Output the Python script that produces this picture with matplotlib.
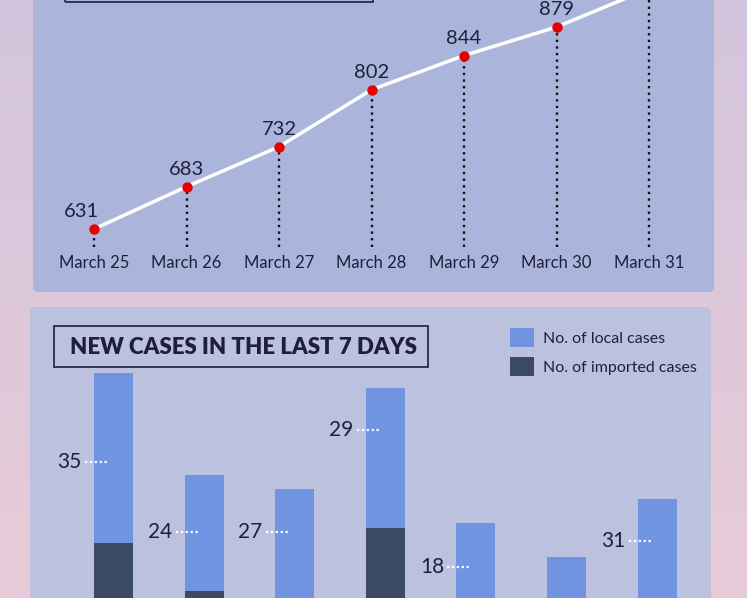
import matplotlib
matplotlib.use("Agg")
import matplotlib.pyplot as plt
import numpy as np
from matplotlib.patches import FancyBboxPatch, Rectangle, Patch
from matplotlib.colors import LinearSegmentedColormap

# ---------------- data ----------------
dates = ["March 25", "March 26", "March 27", "March 28", "March 29", "March 30", "March 31"]
total_cases = [631, 683, 732, 802, 844, 879, 926]
local_cases = [35, 24, 27, 29, 18, 16, 31]
imported_cases = [38, 28, 22, 41, 24, 19, 16]
bar_title = "NEW CASES IN THE LAST 7 DAYS"
legend_labels = ["No. of local cases", "No. of imported cases"]

# ---------------- style ----------------
W, H = 747, 598
FONT = "Lato"
TXT = "#1f1f3d"
BG_TOP, BG_BOT = "#d3c5de", "#e8cbd7"
PANEL1 = "#abb5dc"
PANEL2 = "#bcc2de"
LOCAL_C = "#7094e2"
IMPORT_C = "#3a4a66"

def fx(px):
    return px / W

def fy(py):
    return 1 - py / H

fig = plt.figure(figsize=(W / 100, H / 100), dpi=100)

# background gradient
bg = fig.add_axes([0, 0, 1, 1], zorder=0)
cmap = LinearSegmentedColormap.from_list("bg", [BG_TOP, BG_BOT])
bg.imshow(np.linspace(0, 1, 256).reshape(-1, 1), aspect="auto", cmap=cmap,
          extent=[0, 1, 0, 1], origin="upper")
bg.set_xlim(0, 1)
bg.set_ylim(0, 1)
bg.axis("off")

# panels (pixel boxes)
def panel(x0, y0, x1, y1, color):
    p = FancyBboxPatch((fx(x0), fy(y1)), fx(x1) - fx(x0), fy(y0) - fy(y1),
                       boxstyle="round,pad=0,rounding_size=0.007",
                       transform=bg.transAxes, facecolor=color, edgecolor="none",
                       zorder=1)
    bg.add_patch(p)

panel(33, -20, 714, 292, PANEL1)
panel(30, 307, 711, 640, PANEL2)

# top title box remnant
bg.add_patch(Rectangle((fx(65), fy(2)), fx(373) - fx(65), fy(-40) - fy(2),
                       transform=bg.transAxes, facecolor="none",
                       edgecolor="#2a2a4a", linewidth=1.3, zorder=2))

# ---------------- line chart ----------------
x_step, x0px = 92.5, 94
y_scale, y0px = 0.8145, 229  # px per case, px of first value
ax1 = fig.add_axes([fx(33), fy(247), fx(714) - fx(33), fy(0) - fy(247)], zorder=3)
ax1.set_facecolor("none")
ax1.set_xlim((33 - x0px) / x_step, (714 - x0px) / x_step)
ax1.set_ylim(total_cases[0] - (247 - y0px) / y_scale, total_cases[0] + y0px / y_scale)
xi = np.arange(len(dates))
ax1.vlines(xi, ax1.get_ylim()[0], total_cases, colors="#111111",
           linestyles=(0, (1.0, 1.8)), linewidth=1.7, zorder=2)
ax1.plot(xi, total_cases, color="white", linewidth=2.5, zorder=3, clip_on=False)
ax1.plot(xi, total_cases, linestyle="none", marker="o", markersize=6.5,
         color="#e60000", zorder=4)
for i, v in enumerate(total_cases):
    dx = -9 if i == 0 else 0
    ax1.annotate(str(v), (i, v), xytext=(dx, 12.5), textcoords="offset points",
                 ha="center", va="center", fontsize=14.5, color=TXT,
                 fontfamily=FONT, zorder=5)
ax1.set_xticks(xi)
ax1.set_xticklabels(dates, fontsize=12, color=TXT, fontfamily=FONT)
ax1.tick_params(axis="x", length=0, pad=6)
ax1.set_yticks([])
for s in ax1.spines.values():
    s.set_visible(False)

# ---------------- bar chart ----------------
b_step, b0px = 90.6, 113.5
b_scale, base_px = 4.85, 727
ax2 = fig.add_axes([fx(30), fy(H), fx(711) - fx(30), fy(307) - fy(H)], zorder=3)
ax2.set_facecolor("none")
ax2.set_xlim((30 - b0px) / b_step, (711 - b0px) / b_step)
ax2.set_ylim((base_px - H) / b_scale, (base_px - 307) / b_scale)
bw = 39 / b_step
ax2.bar(xi, imported_cases, width=bw, color=IMPORT_C, zorder=2)
ax2.bar(xi, local_cases, bottom=imported_cases, width=bw, color=LOCAL_C, zorder=2)
for s in ax2.spines.values():
    s.set_visible(False)
ax2.set_xticks([])
ax2.set_yticks([])

# value labels with white dotted leaders (the March 30 one lies below the crop)
label_heights = [54.6, 40.2, 40.2, 61.2, 33.0, None, 38.4]
for i, (v, h) in enumerate(zip(local_cases, label_heights)):
    if h is None:
        continue
    ax2.text(i - 32 / b_step, h, str(v), ha="right", va="center", fontsize=15,
             color=TXT, fontfamily=FONT, zorder=4)
    ax2.plot([i - 28.5 / b_step, i - 4.5 / b_step], [h, h], color="white",
             linestyle=(0, (1, 1.2)), linewidth=1.6, zorder=4)

# title box
fig.text(fx(243), fy(347), bar_title, ha="center", va="center", fontsize=16,
         fontweight="heavy", color=TXT, fontfamily=FONT, zorder=5)
bg.add_patch(Rectangle((fx(54), fy(367)), fx(428) - fx(54), fy(326) - fy(367),
                       transform=bg.transAxes, facecolor="none",
                       edgecolor="#2a2a4a", linewidth=1.3, zorder=2))

handles = [Patch(facecolor=LOCAL_C), Patch(facecolor=IMPORT_C)]
leg = ax2.legend(handles, legend_labels, loc="upper left",
                 bbox_to_anchor=(fx(504), fy(322)), bbox_transform=fig.transFigure,
                 frameon=False, handlelength=1.45, handleheight=1.45,
                 handletextpad=0.6, labelspacing=0.6, borderaxespad=0,
                 prop={"family": FONT, "size": 11.5})
for t in leg.get_texts():
    t.set_color(TXT)

fig.savefig("out.png", dpi=100)
